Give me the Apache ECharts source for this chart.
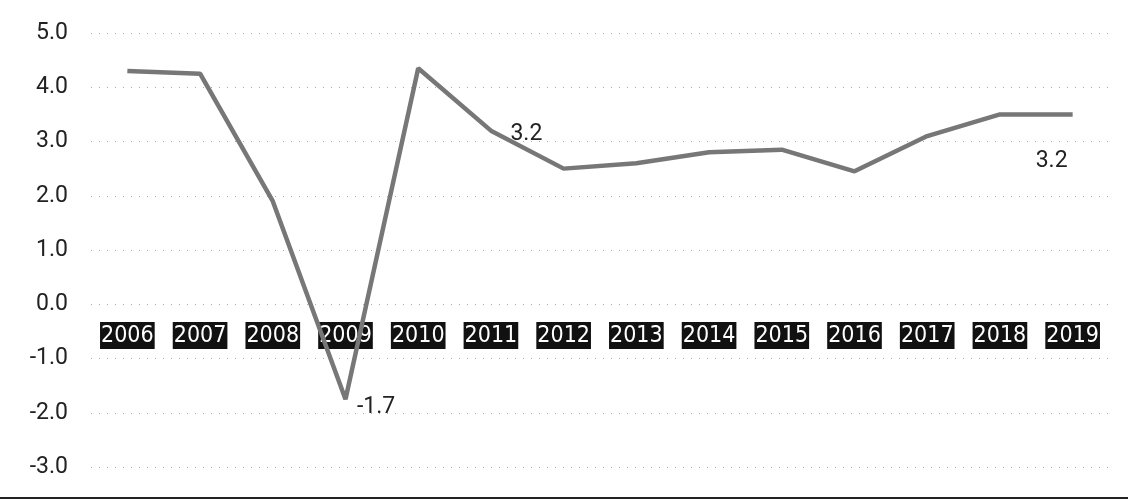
<!DOCTYPE html>
<html>
<head>
<meta charset="utf-8">
<script src="https://cdn.jsdelivr.net/npm/echarts@6/dist/echarts.min.js"></script>
<style>
  html, body { margin: 0; padding: 0; background: #fff; }
  #chart1 { width: 1128px; height: 499px; }
</style>
</head>
<body>
<div id="chart1"></div>
<script>
// years and values
var anios = ['2006', '2007', '2008', '2009', '2010', '2011', '2012', '2013', '2014', '2015', '2016', '2017', '2018', '2019'];
var valores = [4.3, 4.25, 1.9, -1.75, 4.35, 3.2, 2.5, 2.6, 2.8, 2.85, 2.45, 3.1, 3.5, 3.5];
// printed value labels (text as shown on the chart)
var etiquetas = { '2009': '-1.7', '2011': '3.2', '2019': '3.2' };
var yTicks = { min: -3, max: 5, step: 1 };

function getOption() {
  var datos = valores.map(function (v, i) {
    var txt = etiquetas[anios[i]];
    var item = { value: v };
    if (txt) {
      item.label = {
        show: true,
        formatter: txt,
        position: anios[i] === '2019' ? 'bottom' : 'right',
        offset: anios[i] === '2019' ? [-21, 30] : (anios[i] === '2011' ? [14, 4] : [6, 8]),
        fontFamily: 'Roboto',
        fontSize: 23,
        color: '#222'
      };
    }
    return item;
  });
  return {
    animation: false,
    grid: { left: 91, right: 19, top: 33, bottom: 32 },
    xAxis: {
      type: 'category',
      data: anios,
      boundaryGap: true,
      position: 'bottom',
      offset: -162,
      z: 0,
      axisLine: { onZero: false, show: false },
      axisTick: { show: false },
      axisLabel: {
        margin: 17,
        color: '#fff',
        backgroundColor: '#111',
        padding: [3, 1, 1, 1],
        fontFamily: 'DejaVu Sans Condensed',
        fontSize: 23
      }
    },
    yAxis: {
      type: 'value',
      min: yTicks.min,
      max: yTicks.max,
      interval: yTicks.step,
      axisLine: { show: false },
      axisTick: { show: false },
      axisLabel: {
        margin: 23,
        color: '#222',
        fontFamily: 'Roboto',
        fontSize: 23,
        formatter: function (v) { return v.toFixed(1); }
      },
      splitLine: { lineStyle: { color: '#aaa', type: [1, 7], width: 1 } }
    },
    series: [{
      type: 'line',
      data: datos,
      symbol: 'circle',
      symbolSize: 1,
      showSymbol: true,
      itemStyle: { color: 'rgba(0,0,0,0)' },
      lineStyle: { color: '#777', width: 4.5 },
      zlevel: 1,
      z: 5
    }],
    graphic: [{
      type: 'rect',
      shape: { x: 0, y: 497, width: 1128, height: 2 },
      style: { fill: '#222' }
    }]
  };
}

window.addEventListener('load', function () {
  var chart1 = echarts.init(document.getElementById('chart1'));
  chart1.setOption(getOption());
  window.chart1 = chart1;
});
</script>
</body>
</html>
